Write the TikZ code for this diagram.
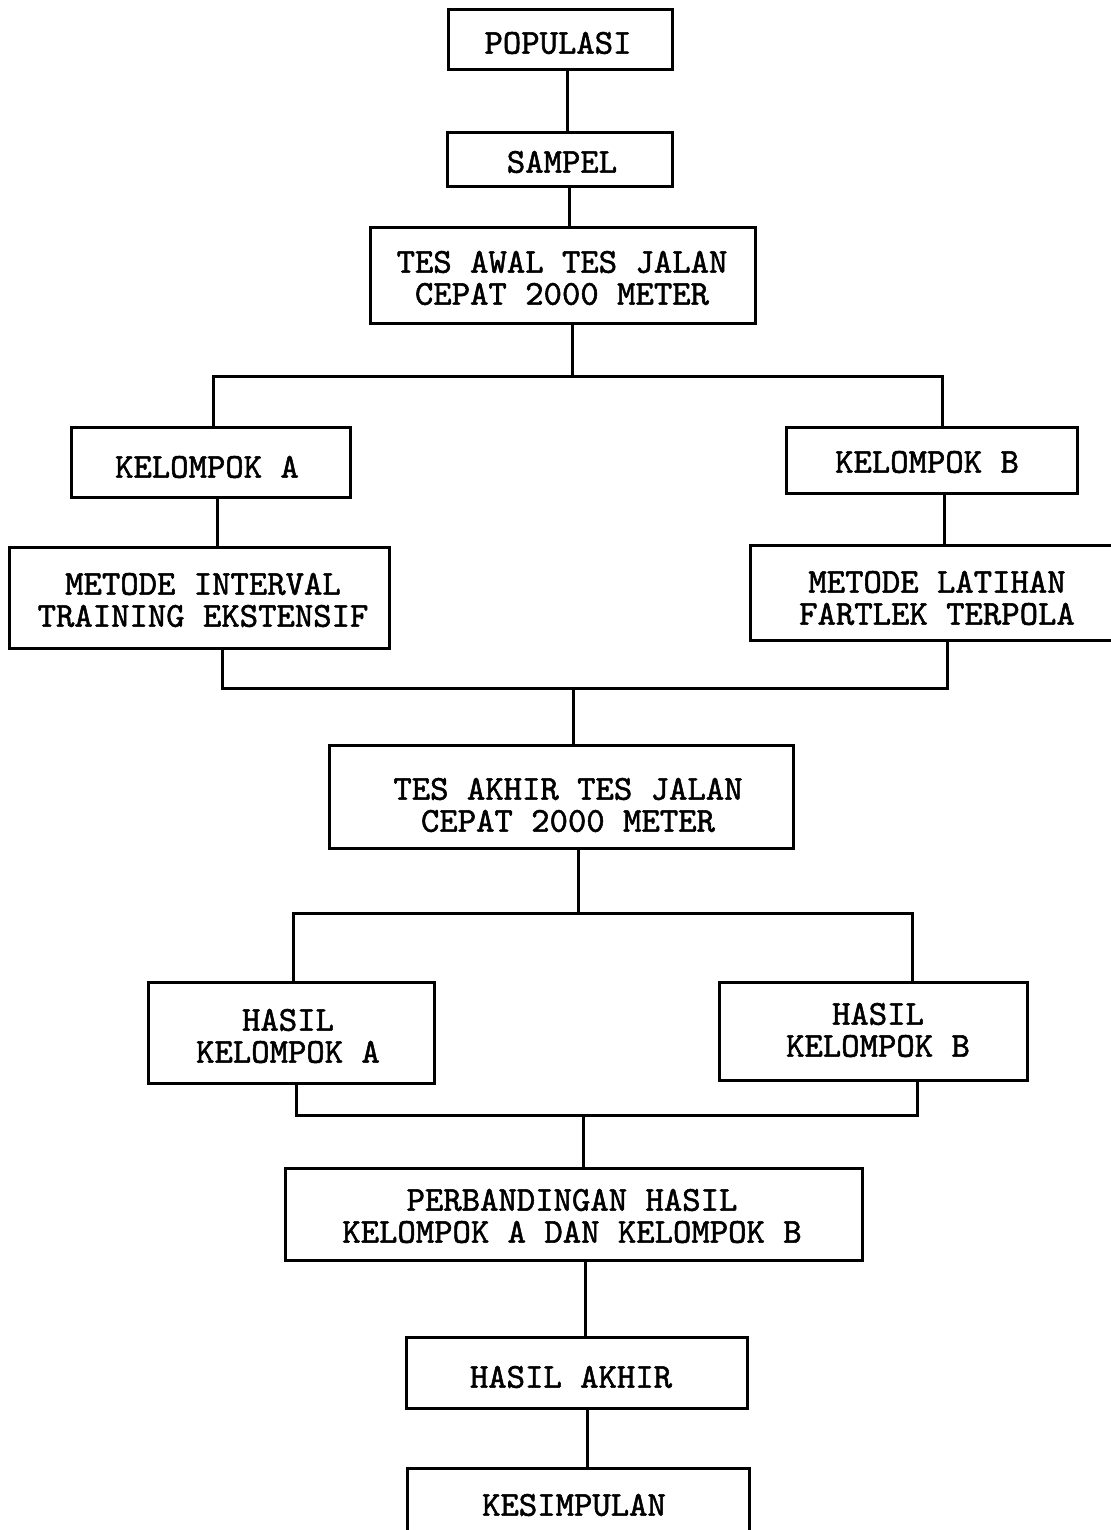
\documentclass[tikz,border=0pt]{standalone}
\font\twfont="[lmmono10-regular.otf]:embolden=1.5" at 17.5pt
\newcommand\twsel{\twfont\baselineskip=16pt\relax}
\begin{document}
\begin{tikzpicture}[x=0.5pt,y=-0.5pt,
  boxst/.style={draw, line width=1.5pt, inner sep=0pt, outer sep=0pt},
  txt/.style={inner sep=0pt, align=center, font=\twsel},
  conn/.style={line width=1.5pt, line join=miter}]
\useasboundingbox (0,0) rectangle (1111,1530);
\fill[white] (0,0) rectangle (1111,1530);
\clip (0,0) rectangle (1111,1530);

% boxes
\node[boxst, minimum width=112pt,   minimum height=30pt]   (pop)    at (560,40)     {};
\node[boxst, minimum width=112.5pt, minimum height=27pt]   (samp)   at (559.5,160)  {};
\node[boxst, minimum width=192.5pt, minimum height=47.5pt] (awal)   at (562.5,275.5){};
\node[boxst, minimum width=139.5pt, minimum height=35pt]   (kelA)   at (210.5,462)  {};
\node[boxst, minimum width=145.5pt, minimum height=33pt]   (kelB)   at (931.5,460)  {};
\node[boxst, minimum width=190pt,   minimum height=50.5pt] (metA)   at (199,597.5)  {};
\node[boxst, minimum width=190pt,   minimum height=47.5pt] (metB)   at (940,592.5)  {};
\node[boxst, minimum width=232pt,   minimum height=51.5pt] (akhir)  at (561,796.5)  {};
\node[boxst, minimum width=143pt,   minimum height=50.5pt] (hasA)   at (291,1032.5) {};
\node[boxst, minimum width=154pt,   minimum height=49pt]   (hasB)   at (873,1031)   {};
\node[boxst, minimum width=288.5pt, minimum height=46pt]   (perb)   at (573.5,1214) {};
\node[boxst, minimum width=170.5pt, minimum height=35.5pt] (hakhir) at (576.5,1372.5){};
\node[boxst, minimum width=171pt,   minimum height=38.5pt] (kesimp) at (578,1506.5) {};

% texts
\node[txt] (tpop)    at (558,43)    {POPULASI};
\node[txt] (tsamp)   at (562,162)   {SAMPEL};
\node[txt] (tawal)   at (562,278)   {TES AWAL TES JALAN\\CEPAT 2000 METER};
\node[txt] (tkelA)   at (207,467)   {KELOMPOK A};
\node[txt] (tkelB)   at (927,462)   {KELOMPOK B};
\node[txt] (tmetA)   at (203,600)   {METODE INTERVAL\\TRAINING EKSTENSIF};
\node[txt] (tmetB)   at (937,598)   {METODE LATIHAN\\FARTLEK TERPOLA};
\node[txt] (takhir)  at (568,805)   {TES AKHIR TES JALAN\\CEPAT 2000 METER};
\node[txt] (thasA)   at (288,1036)  {HASIL\\KELOMPOK A};
\node[txt] (thasB)   at (878,1030)  {HASIL\\KELOMPOK B};
\node[txt] (tperb)   at (572,1216)  {PERBANDINGAN HASIL\\KELOMPOK A DAN KELOMPOK B};
\node[txt] (thakhir) at (571,1377)  {HASIL AKHIR};
\node[txt] (tkesimp) at (574,1505)  {KESIMPULAN};

% connector anchor coordinates
\coordinate (s1) at (567,0);
\coordinate (s2) at (569,0);
\coordinate (b1L) at (213,376);
\coordinate (b1M) at (572,376);
\coordinate (b1R) at (942,376);
\coordinate (sA) at (217,0);
\coordinate (sB) at (944,0);
\coordinate (b2L) at (222,688);
\coordinate (b2M) at (573,688);
\coordinate (b2R) at (947,688);
\coordinate (b3L) at (293,913);
\coordinate (b3M) at (578,913);
\coordinate (b3R) at (912,913);
\coordinate (b4L) at (296,1115);
\coordinate (b4M) at (583,1115);
\coordinate (b4R) at (917,1115);
\coordinate (s5) at (585,0);
\coordinate (s6) at (587,0);

% connectors
\draw[conn] (pop.south -| s1) -- (samp.north -| s1);
\draw[conn] (samp.south -| s2) -- (awal.north -| s2);
\draw[conn] (awal.south -| b1M) -- (b1M);
\draw[conn] (kelA.north -| b1L) -- (b1L) -- (b1R) -- (kelB.north -| b1R);
\draw[conn] (kelA.south -| sA) -- (metA.north -| sA);
\draw[conn] (kelB.south -| sB) -- (metB.north -| sB);
\draw[conn] (metA.south -| b2L) -- (b2L) -- (b2R) -- (metB.south -| b2R);
\draw[conn] (b2M) -- (akhir.north -| b2M);
\draw[conn] (akhir.south -| b3M) -- (b3M);
\draw[conn] (hasA.north -| b3L) -- (b3L) -- (b3R) -- (hasB.north -| b3R);
\draw[conn] (hasA.south -| b4L) -- (b4L) -- (b4R) -- (hasB.south -| b4R);
\draw[conn] (b4M) -- (perb.north -| b4M);
\draw[conn] (perb.south -| s5) -- (hakhir.north -| s5);
\draw[conn] (hakhir.south -| s6) -- (kesimp.north -| s6);
\end{tikzpicture}
\end{document}
